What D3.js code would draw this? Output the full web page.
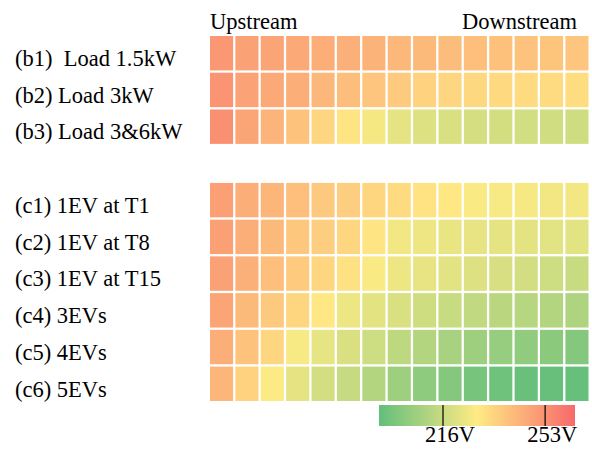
<!DOCTYPE html>
<html>
<head>
<meta charset="utf-8">
<script src="https://cdn.jsdelivr.net/npm/d3@7"></script>
<style>
  html, body { margin: 0; padding: 0; background: #fff; }
  svg text { font-family: "Liberation Serif", "Times New Roman", serif; fill: #000; }
</style>
</head>
<body>
<svg id="chart" width="592" height="451"></svg>
<script>
// Node positions along the feeder (1 = upstream, 15 = downstream)
const nodes = d3.range(1, 16);

// Scenario labels; null marks the blank spacer row between the two groups
const scenarios = [
  "(b1)  Load 1.5kW",
  "(b2) Load 3kW",
  "(b3) Load 3&6kW",
  null,
  "(c1) 1EV at T1",
  "(c2) 1EV at T8",
  "(c3) 1EV at T15",
  "(c4) 3EVs",
  "(c5) 4EVs",
  "(c6) 5EVs"
];

// Node voltages (V) per scenario
const b1 = [251.2, 248.7, 248.0, 246.6, 245.5, 244.5, 243.8, 242.7, 242.0, 241.3, 240.6, 239.9, 239.5, 239.2, 238.8];
const b2 = [252.3, 248.4, 246.6, 245.2, 242.7, 240.9, 238.8, 237.4, 235.2, 234.5, 233.8, 233.5, 232.8, 232.8, 232.4];
const b3 = [253.4, 248.0, 243.4, 239.5, 234.5, 230.3, 226.2, 222.5, 220.7, 219.6, 218.9, 218.6, 218.0, 217.9, 217.5];
const c1 = [249.1, 245.2, 243.1, 240.6, 237.7, 236.3, 234.2, 232.8, 231.0, 229.6, 227.4, 226.7, 226.4, 225.7, 225.7];
const c2 = [249.1, 245.2, 242.0, 238.4, 236.3, 234.2, 230.3, 225.7, 224.6, 223.5, 223.2, 222.5, 222.1, 221.8, 221.8];
const c3 = [248.7, 244.5, 240.6, 237.4, 234.2, 231.3, 227.4, 224.6, 223.2, 221.8, 220.7, 219.3, 218.2, 217.1, 216.1];
const c4 = [248.0, 242.0, 237.7, 234.2, 229.6, 224.2, 222.1, 219.6, 217.5, 215.7, 214.3, 212.9, 211.8, 211.1, 210.0];
const c5 = [245.2, 239.5, 234.2, 226.7, 222.8, 220.0, 217.1, 213.6, 211.1, 208.6, 206.5, 204.7, 203.3, 202.2, 200.8];
const c6 = [243.1, 235.2, 227.8, 222.5, 218.2, 215.4, 211.1, 206.5, 202.9, 200.8, 197.6, 195.8, 194.4, 194.1, 193.7];
const seriesValues = [b1, b2, b3, null, c1, c2, c3, c4, c5, c6];

// Colour scale limits (V) and colour-bar ticks
const colorDomain = [193, 228.5, 264];
const colorRange = ["#63BE7B", "#FFEB84", "#F8696B"];
const barTicks = [216, 253];

const fontSize = 22.5;
const svg = d3.select("#chart");

const color = d3.scaleLinear().domain(colorDomain).range(colorRange).interpolate(d3.interpolateRgb);

const x = d3.scaleBand().domain(nodes).range([210, 588.5]).paddingInner(0.09);
const y = d3.scaleBand().domain(d3.range(scenarios.length)).range([36, 401]).paddingInner(0.063);

// Flatten into cells
const cells = [];
seriesValues.forEach((vals, r) => {
  if (!vals) return;
  vals.forEach((v, i) => cells.push({ row: r, node: nodes[i], v }));
});

svg.append("g").selectAll("rect")
  .data(cells)
  .join("rect")
  .attr("x", d => x(d.node))
  .attr("y", d => y(d.row))
  .attr("width", x.bandwidth())
  .attr("height", y.bandwidth())
  .attr("fill", d => color(d.v));

// Row labels
svg.append("g").selectAll("text")
  .data(scenarios.map((s, i) => ({ s, i })).filter(d => d.s))
  .join("text")
  .attr("x", 15)
  .attr("y", d => y(d.i) + 30)
  .style("white-space", "pre")
  .attr("font-size", fontSize)
  .text(d => d.s);

// Direction labels
svg.append("text").attr("x", x(nodes[0])).attr("y", 29).attr("font-size", fontSize).text("Upstream");
svg.append("text").attr("x", 577).attr("y", 29).attr("font-size", fontSize)
  .attr("text-anchor", "end").text("Downstream");

// Colour bar
const barX = d3.scaleLinear().domain([colorDomain[0], colorDomain[2]]).range([379, 575]);
const barTop = 405, barH = 21;

const grad = svg.append("defs").append("linearGradient")
  .attr("id", "vgrad").attr("x1", "0%").attr("x2", "100%").attr("y1", "0%").attr("y2", "0%");
grad.selectAll("stop")
  .data(colorDomain)
  .join("stop")
  .attr("offset", d => (barX(d) - 379) / (575 - 379))
  .attr("stop-color", d => color(d));

svg.append("rect")
  .attr("x", barX.range()[0]).attr("y", barTop)
  .attr("width", barX.range()[1] - barX.range()[0]).attr("height", barH)
  .attr("fill", "url(#vgrad)");

const axis = d3.axisBottom(barX)
  .tickValues(barTicks)
  .tickFormat(d => d + "V")
  .tickSize(-barH)
  .tickPadding(0);

const ax = svg.append("g")
  .attr("transform", `translate(0,${barTop + barH})`)
  .call(axis);
ax.select(".domain").remove();
ax.selectAll(".tick line").attr("stroke", "#000").attr("stroke-width", 1.2);
ax.selectAll(".tick text")
  .attr("font-size", fontSize)
  .attr("font-family", "Liberation Serif, Times New Roman, serif")
  .attr("fill", "#000")
  .attr("dy", null)
  .attr("y", 15.5)
  .attr("dx", 7);
</script>
</body>
</html>
